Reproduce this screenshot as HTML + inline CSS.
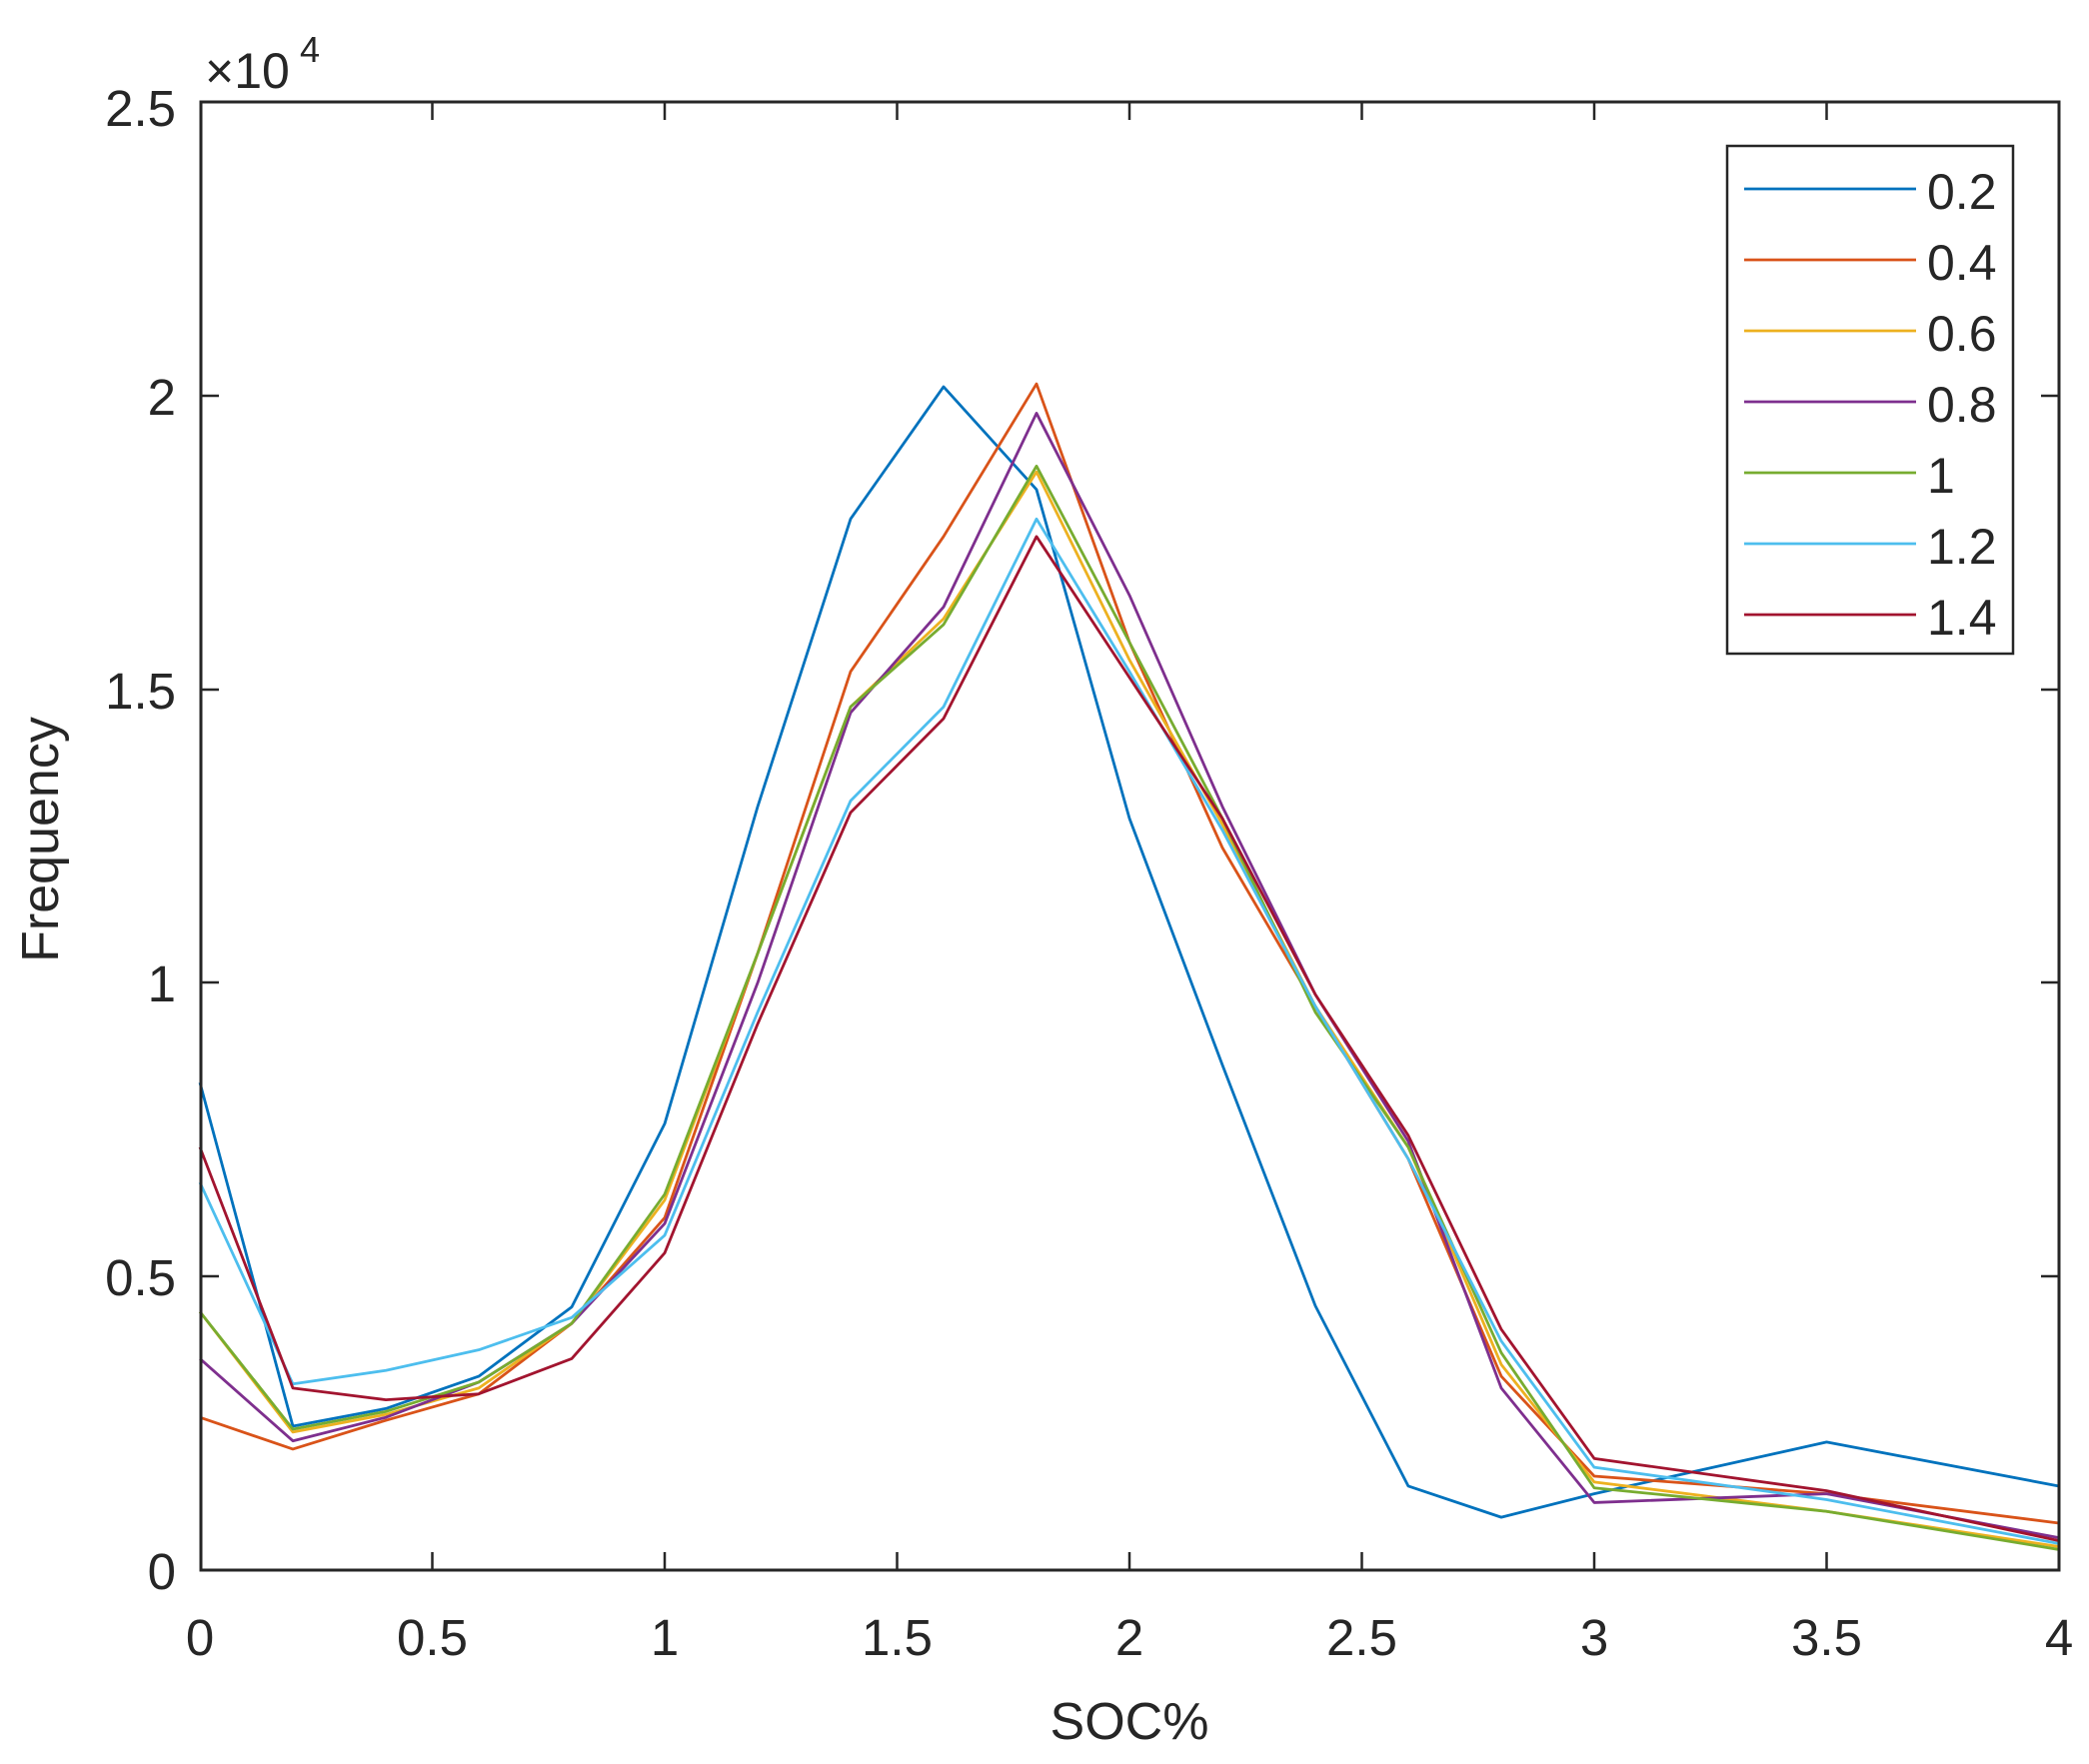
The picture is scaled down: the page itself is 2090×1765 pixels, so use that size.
<!DOCTYPE html>
<html><head><meta charset="utf-8"><style>
html,body{margin:0;padding:0;background:#fff;}
svg{display:block;}
text{font-family:"Liberation Sans",Arial,sans-serif;fill:#262626;}
</style></head><body>
<svg width="2090" height="1765" viewBox="0 0 2090 1765" xmlns="http://www.w3.org/2000/svg">
<rect width="2090" height="1765" fill="#fff"/>
<g transform="translate(200,1571) scale(465,-0.05876)" fill="none" stroke-width="2.8" stroke-linejoin="round">
<polyline vector-effect="non-scaling-stroke" stroke="#0072BD" points="0,8300 0.2,2450 0.4,2750 0.6,3300 0.8,4480 1,7600 1.2,13000 1.4,17900 1.6,20150 1.8,18400 2,12800 2.2,8600 2.4,4500 2.6,1430 2.8,900 3,1300 3.5,2180 4,1430"/>
<polyline vector-effect="non-scaling-stroke" stroke="#D95319" points="0,2600 0.2,2060 0.4,2550 0.6,3000 0.8,4200 1,6000 1.2,10500 1.4,15300 1.6,17600 1.8,20200 2,15800 2.2,12300 2.4,9600 2.6,7000 2.8,3300 3,1600 3.5,1300 4,800"/>
<polyline vector-effect="non-scaling-stroke" stroke="#EDB120" points="0,4400 0.2,2350 0.4,2650 0.6,3100 0.8,4200 1,6300 1.2,10500 1.4,14700 1.6,16200 1.8,18700 2,15500 2.2,12700 2.4,9600 2.6,7200 2.8,3500 3,1500 3.5,1000 4,400"/>
<polyline vector-effect="non-scaling-stroke" stroke="#7E2F8E" points="0,3600 0.2,2200 0.4,2600 0.6,3200 0.8,4200 1,5900 1.2,10000 1.4,14600 1.6,16400 1.8,19700 2,16600 2.2,13000 2.4,9800 2.6,7300 2.8,3100 3,1150 3.5,1300 4,550"/>
<polyline vector-effect="non-scaling-stroke" stroke="#77AC30" points="0,4400 0.2,2400 0.4,2700 0.6,3200 0.8,4200 1,6400 1.2,10500 1.4,14700 1.6,16100 1.8,18800 2,15800 2.2,12800 2.4,9500 2.6,7200 2.8,3700 3,1400 3.5,1000 4,350"/>
<polyline vector-effect="non-scaling-stroke" stroke="#4DBEEE" points="0,6600 0.2,3170 0.4,3400 0.6,3750 0.8,4300 1,5700 1.2,9500 1.4,13100 1.6,14700 1.8,17900 2,15300 2.2,12600 2.4,9600 2.6,7000 2.8,3900 3,1750 3.5,1200 4,450"/>
<polyline vector-effect="non-scaling-stroke" stroke="#A2142F" points="0,7200 0.2,3100 0.4,2900 0.6,3000 0.8,3600 1,5400 1.2,9300 1.4,12900 1.6,14500 1.8,17600 2,15200 2.2,12800 2.4,9800 2.6,7400 2.8,4100 3,1900 3.5,1350 4,500"/>
</g>
<rect x="201" y="102" width="1859" height="1469" fill="none" stroke="#262626" stroke-width="3"/>
<g stroke="#262626" stroke-width="2.5">
<line x1="432.5" y1="1571" x2="432.5" y2="1553"/><line x1="432.5" y1="102" x2="432.5" y2="120"/>
<line x1="665" y1="1571" x2="665" y2="1553"/><line x1="665" y1="102" x2="665" y2="120"/>
<line x1="897.5" y1="1571" x2="897.5" y2="1553"/><line x1="897.5" y1="102" x2="897.5" y2="120"/>
<line x1="1130" y1="1571" x2="1130" y2="1553"/><line x1="1130" y1="102" x2="1130" y2="120"/>
<line x1="1362.5" y1="1571" x2="1362.5" y2="1553"/><line x1="1362.5" y1="102" x2="1362.5" y2="120"/>
<line x1="1595" y1="1571" x2="1595" y2="1553"/><line x1="1595" y1="102" x2="1595" y2="120"/>
<line x1="1827.5" y1="1571" x2="1827.5" y2="1553"/><line x1="1827.5" y1="102" x2="1827.5" y2="120"/>
<line x1="201" y1="1277" x2="219" y2="1277"/><line x1="2060" y1="1277" x2="2042" y2="1277"/>
<line x1="201" y1="983" x2="219" y2="983"/><line x1="2060" y1="983" x2="2042" y2="983"/>
<line x1="201" y1="690" x2="219" y2="690"/><line x1="2060" y1="690" x2="2042" y2="690"/>
<line x1="201" y1="396" x2="219" y2="396"/><line x1="2060" y1="396" x2="2042" y2="396"/>
</g>
<g font-size="51" text-anchor="middle">
<text x="200" y="1656">0</text><text x="432.5" y="1656">0.5</text><text x="665" y="1656">1</text>
<text x="897.5" y="1656">1.5</text><text x="1130" y="1656">2</text><text x="1362.5" y="1656">2.5</text>
<text x="1595" y="1656">3</text><text x="1827.5" y="1656">3.5</text><text x="2060" y="1656">4</text>
</g>
<g font-size="51" text-anchor="end">
<text x="176" y="1590">0</text><text x="176" y="1296">0.5</text><text x="176" y="1002">1</text>
<text x="176" y="709">1.5</text><text x="176" y="415">2</text><text x="176" y="126">2.5</text>
</g>
<text x="205" y="88" font-size="50">×10</text><text x="300" y="62" font-size="36">4</text>
<text x="1130" y="1740" font-size="52" text-anchor="middle">SOC%</text>
<text transform="translate(58,840) rotate(-90)" font-size="52" text-anchor="middle">Frequency</text>
<rect x="1728" y="146" width="286" height="508" fill="#fff" stroke="#262626" stroke-width="2.5"/>
<g stroke-width="2.8">
<line x1="1745" y1="189" x2="1917" y2="189" stroke="#0072BD"/>
<line x1="1745" y1="260" x2="1917" y2="260" stroke="#D95319"/>
<line x1="1745" y1="331" x2="1917" y2="331" stroke="#EDB120"/>
<line x1="1745" y1="402" x2="1917" y2="402" stroke="#7E2F8E"/>
<line x1="1745" y1="473" x2="1917" y2="473" stroke="#77AC30"/>
<line x1="1745" y1="544" x2="1917" y2="544" stroke="#4DBEEE"/>
<line x1="1745" y1="615" x2="1917" y2="615" stroke="#A2142F"/>
</g>
<g font-size="50">
<text x="1928" y="209">0.2</text><text x="1928" y="280">0.4</text><text x="1928" y="351">0.6</text>
<text x="1928" y="422">0.8</text><text x="1928" y="493">1</text><text x="1928" y="564">1.2</text>
<text x="1928" y="635">1.4</text>
</g>
</svg>
</body></html>
